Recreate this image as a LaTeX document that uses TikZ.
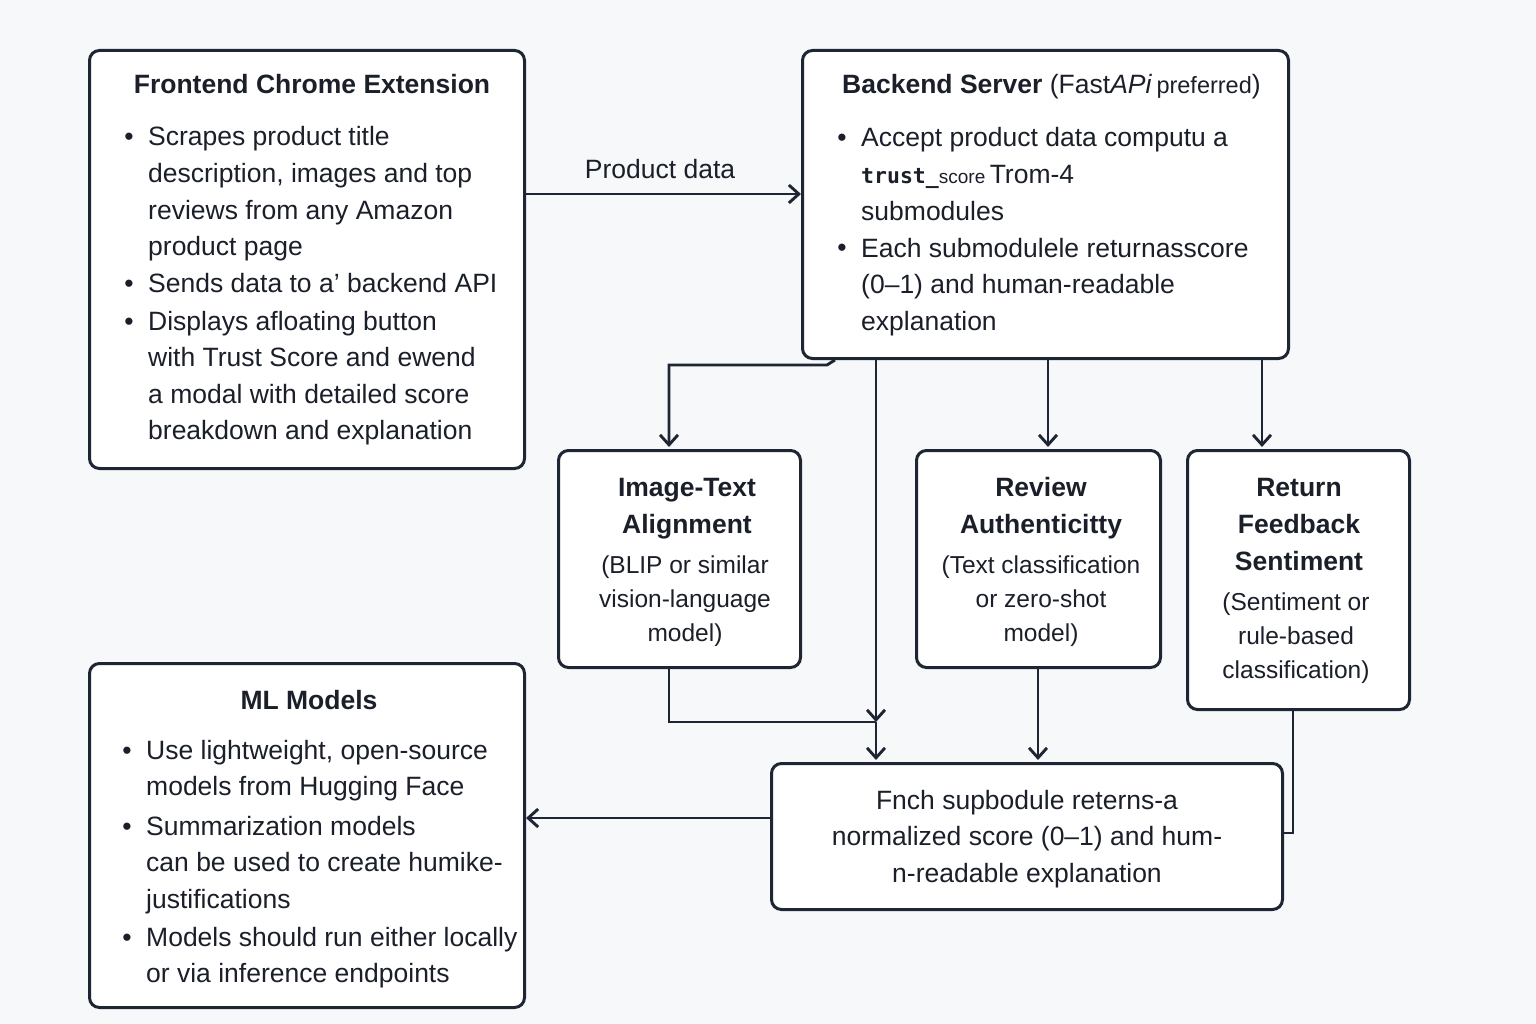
\documentclass[tikz,border=0pt]{standalone}
\usepackage{fontspec}
\setmainfont{Liberation Sans}
\setmonofont{DejaVu Sans Mono}
\usetikzlibrary{arrows.meta}
\definecolor{ink}{HTML}{1E2633}
\definecolor{txtc}{HTML}{1A1F29}
\definecolor{bgc}{HTML}{F7F8FA}
\begin{document}
\begin{tikzpicture}[x=1pt,y=-1pt,
  box/.style={draw=ink,line width=3pt,rounded corners=10pt,fill=white,inner sep=0pt,anchor=north west},
  txt/.style={text=txtc,inner sep=0pt,font=\fontsize{26.5}{36.6}\selectfont,align=left,anchor=base west},
  ttl/.style={text=txtc,inner sep=0pt,font=\fontsize{26.5}{37}\selectfont\bfseries,align=center,anchor=base},
  mid/.style={text=txtc,inner sep=0pt,font=\fontsize{24.5}{34}\selectfont,align=center,anchor=base},
  bul/.style={text=txtc,inner sep=0pt,font=\fontsize{26.5}{36.6}\selectfont,anchor=base},
  conn/.style={draw=ink,line width=2.9pt},
  arr/.style={conn,-{Straight Barb[length=10pt,width=18pt,line width=2.9pt]}}]
\fill[bgc] (0,0) rectangle (1536,1024);
\useasboundingbox (0,0) rectangle (1536,1024);

% boxes
\node[box,minimum width=435pt,minimum height=418pt] (fe) at (88,49) {};
\node[box,minimum width=486pt,minimum height=308pt] (be) at (801,49) {};
\node[box,minimum width=242pt,minimum height=217pt] (it) at (557,449) {};
\node[box,minimum width=244pt,minimum height=217pt] (rv) at (915,449) {};
\node[box,minimum width=222pt,minimum height=259pt] (rt) at (1186,449) {};
\node[box,minimum width=435pt,minimum height=344pt] (ml) at (88,662) {};
\node[box,minimum width=511pt,minimum height=146pt] (bt) at (770,762) {};

% frontend text (anchors at baseline of last line)
\node[ttl] (fet) at (312,94) {Frontend Chrome Extension};
\node[bul] (feb1) at (129,146) {\textbullet};
\node[txt] (fe1) at (148,255.8) {Scrapes product title\\description, images and top\\reviews from any Amazon\\product page};
\node[bul] (feb2) at (129,292) {\textbullet};
\node[txt] (fe2) at (148,292) {Sends data to a’ backend API};
\node[bul] (feb3) at (129,330) {\textbullet};
\node[txt] (fe3) at (148,439.8) {Displays afloating button\\with Trust Score and ewend\\a modal with detailed score\\breakdown and explanation};

% backend text
\node[txt,anchor=base west] (bet) at (842,94) {\textbf{\fontsize{26.5}{37}\selectfont Backend Server} (Fast\textit{APi}\,{\fontsize{23.5}{30}\selectfont preferred})};
\node[bul] (beb1) at (842,147) {\textbullet};
\node[txt] (be1) at (861,220.2) {Accept product data computu a\\{\fontsize{21.5}{30}\selectfont\ttfamily\bfseries trust\_}{\fontsize{19}{30}\selectfont score}\,Trom-4\\submodules};
\node[bul] (beb2) at (842,257) {\textbullet};
\node[txt] (be2) at (861,330.2) {Each submodulele returnasscore\\(0–1) and human-readable\\explanation};

% middle boxes
\node[ttl] (itt) at (687,533) {Image-Text\\Alignment};
\node[mid] (itb) at (685,641) {(BLIP or similar\\vision-language\\model)};
\node[ttl] (rvt) at (1041,533) {Review\\Authenticitty};
\node[mid] (rvb) at (1041,641) {(Text classification\\or zero-shot\\model)};
\node[ttl] (rtt) at (1299,570) {Return\\Feedback\\Sentiment};
\node[mid] (rtb) at (1296,678) {(Sentiment or\\rule-based\\classification)};

% ML models text
\node[ttl] (mlt) at (309,709) {ML Models};
\node[bul] (mlb1) at (127,759) {\textbullet};
\node[txt] (ml1) at (146,795.6) {Use lightweight, open-source\\models from Hugging Face};
\node[bul] (mlb2) at (127,835) {\textbullet};
\node[txt] (ml2) at (146,908.2) {Summarization models\\can be used to create humike-\\justifications};
\node[bul] (mlb3) at (127,946) {\textbullet};
\node[txt] (ml3) at (146,982.6) {Models should run either locally\\or via inference endpoints};

% bottom box text
\node[mid,font=\fontsize{26.5}{36.5}\selectfont] (btt) at (1027,882) {Fnch supbodule reterns-a\\normalized score (0–1) and hum-\\n-readable explanation};

% product data label
\node[text=txtc,inner sep=0pt,font=\fontsize{26.5}{32}\selectfont,anchor=base] (pdl) at (660,179) {Product data};

% connectors
\draw[arr] ([yshift=-145pt]fe.north east) -- ([yshift=-145pt]be.north west);
\draw[arr] ([xshift=34pt]be.south west) -- ([xshift=26pt,yshift=-5pt]be.south west) -| ([xshift=112pt,yshift=2pt]it.north west);
\draw[arr] ([xshift=75pt]be.south west) -- ([xshift=106pt,yshift=40pt]bt.north west);
\draw[arr] ([xshift=106pt,yshift=40pt]bt.north west) -- ([xshift=106pt,yshift=2pt]bt.north west);
\draw[conn] ([xshift=112pt]it.south west) |- ([xshift=106pt,yshift=40pt]bt.north west);
\draw[arr] ([xshift=247pt]be.south west) -- ([xshift=133pt,yshift=2pt]rv.north west);
\draw[arr] ([xshift=123pt]rv.south west) -- ([xshift=268pt,yshift=2pt]bt.north west);
\draw[arr] ([xshift=461pt]be.south west) -- ([xshift=76pt,yshift=2pt]rt.north west);
\draw[conn] ([xshift=107pt]rt.south west) |- ([yshift=-71pt]bt.north east);
\draw[arr] ([yshift=-56pt]bt.north west) -- ([yshift=-156pt]ml.north east);
\end{tikzpicture}
\end{document}
